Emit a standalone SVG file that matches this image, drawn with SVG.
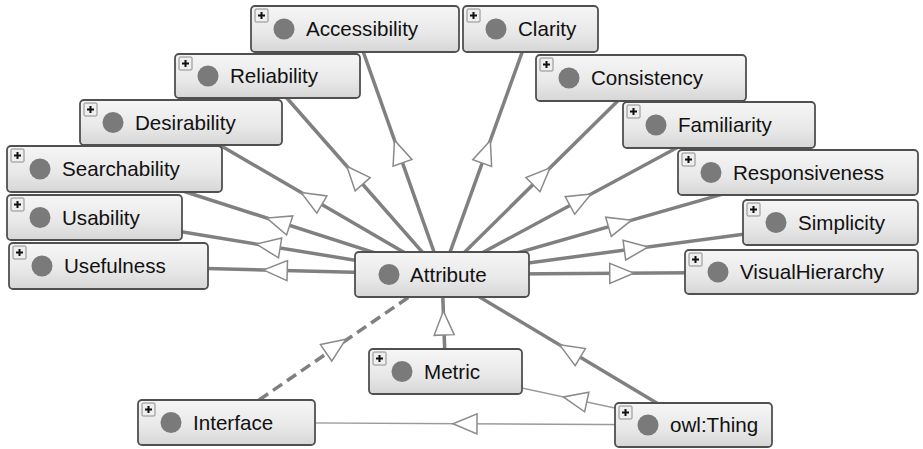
<svg xmlns="http://www.w3.org/2000/svg" xmlns:xlink="http://www.w3.org/1999/xlink" width="923" height="449" viewBox="0 0 923 449">
<style>
.box{fill:url(#bg);stroke:#505050;stroke-width:1.8}
.dot{fill:#7a7a7a}
.lbl{font-family:"Liberation Sans",Arial,sans-serif;font-size:20.6px;fill:#111}
.e{stroke:#808080;stroke-width:3.5;fill:none}
.thin{stroke:#9a9a9a;stroke-width:1.4;fill:none}
.dash{stroke:#808080;stroke-width:3.5;fill:none;stroke-dasharray:11 6}
.ah{fill:#fff;stroke:#8a8a8a;stroke-width:1.5;stroke-linejoin:miter}
</style>
<defs>
<linearGradient id="bg" x1="0" y1="0" x2="0" y2="1">
<stop offset="0" stop-color="#f6f6f6"/>
<stop offset="0.6" stop-color="#e8e8e8"/>
<stop offset="1" stop-color="#d6d6d6"/>
</linearGradient>
<g id="plus">
<rect x="0" y="0" width="13" height="13" rx="1" fill="#efefef" stroke="#8c8c8c" stroke-width="1"/>
<path d="M3,6.5 H10 M6.5,3 V10" stroke="#111" stroke-width="2"/>
</g>
<path id="ah" d="M12,0 L-12,-10 L-12,10 Z"/>
</defs>
<rect width="923" height="449" fill="#fff"/>
<g id="connectors">
<line class="e" x1="442" y1="274.5" x2="355" y2="28.5"/>
<line class="e" x1="442" y1="274.5" x2="530.5" y2="29"/>
<line class="e" x1="442" y1="274.5" x2="267.5" y2="76"/>
<line class="e" x1="442" y1="274.5" x2="641" y2="78"/>
<line class="e" x1="442" y1="274.5" x2="181" y2="122.5"/>
<line class="e" x1="442" y1="274.5" x2="719" y2="125"/>
<line class="e" x1="442" y1="274.5" x2="114.5" y2="169"/>
<line class="e" x1="442" y1="274.5" x2="798" y2="172.5"/>
<line class="e" x1="442" y1="274.5" x2="94.5" y2="217.5"/>
<line class="e" x1="442" y1="274.5" x2="830.5" y2="222.5"/>
<line class="e" x1="442" y1="274.5" x2="108.5" y2="266"/>
<line class="e" x1="442" y1="274.5" x2="801.5" y2="272"/>
<line class="e" x1="445.5" y1="371.5" x2="442" y2="274.5"/>
<line class="e" x1="693.5" y1="425" x2="442" y2="274.5"/>
<line class="dash" x1="259" y1="400" x2="409" y2="297"/>
<line class="thin" x1="693.5" y1="425" x2="226.5" y2="422.5"/>
<line class="thin" x1="693.5" y1="425" x2="445.5" y2="371.5"/>
<g class="ah">
<use xlink:href="#ah" transform="translate(398.5,151.5) rotate(-109.5)"/>
<use xlink:href="#ah" transform="translate(486.25,151.75) rotate(-70.2)"/>
<use xlink:href="#ah" transform="translate(354.75,175.25) rotate(-131.3)"/>
<use xlink:href="#ah" transform="translate(541.5,176.25) rotate(-44.6)"/>
<use xlink:href="#ah" transform="translate(311.5,198.5) rotate(-149.8)"/>
<use xlink:href="#ah" transform="translate(580.5,199.75) rotate(-28.4)"/>
<use xlink:href="#ah" transform="translate(278.25,221.75) rotate(-162.1)"/>
<use xlink:href="#ah" transform="translate(620,223.5) rotate(-16)"/>
<use xlink:href="#ah" transform="translate(268.25,246) rotate(-170.7)"/>
<use xlink:href="#ah" transform="translate(636.25,248.5) rotate(-7.6)"/>
<use xlink:href="#ah" transform="translate(275.25,270.25) rotate(-178.5)"/>
<use xlink:href="#ah" transform="translate(621.75,273.25) rotate(-0.4)"/>
<use xlink:href="#ah" transform="translate(443.75,323) rotate(-92)"/>
<use xlink:href="#ah" transform="translate(570,351) rotate(-149.1)"/>
<use xlink:href="#ah" transform="translate(336,346) rotate(-34.5)"/>
<use xlink:href="#ah" transform="translate(465,423.8) rotate(180.3)"/>
<use xlink:href="#ah" transform="translate(575,399.5) rotate(192.2)"/>
</g>
</g>
<g id="Accessibility">
<rect class="box" x="251" y="6" width="208" height="46" rx="4"/>
<use xlink:href="#plus" x="255" y="9"/>
<circle class="dot" cx="284" cy="29" r="10.5"/>
<text class="lbl" x="306" y="36">Accessibility</text>
</g>
<g id="Clarity">
<rect class="box" x="463" y="6" width="135" height="46" rx="4"/>
<use xlink:href="#plus" x="467" y="9"/>
<circle class="dot" cx="496" cy="29" r="10.5"/>
<text class="lbl" x="518" y="36">Clarity</text>
</g>
<g id="Reliability">
<rect class="box" x="175" y="54" width="185" height="44" rx="4"/>
<use xlink:href="#plus" x="179" y="57"/>
<circle class="dot" cx="208" cy="76" r="10.5"/>
<text class="lbl" x="230" y="83">Reliability</text>
</g>
<g id="Consistency">
<rect class="box" x="536" y="55" width="210" height="46" rx="4"/>
<use xlink:href="#plus" x="540" y="58"/>
<circle class="dot" cx="569" cy="78" r="10.5"/>
<text class="lbl" x="591" y="85">Consistency</text>
</g>
<g id="Desirability">
<rect class="box" x="80" y="100" width="202" height="45" rx="4"/>
<use xlink:href="#plus" x="84" y="103"/>
<circle class="dot" cx="113" cy="122.5" r="10.5"/>
<text class="lbl" x="135" y="129.5">Desirability</text>
</g>
<g id="Familiarity">
<rect class="box" x="623" y="102" width="192" height="46" rx="4"/>
<use xlink:href="#plus" x="627" y="105"/>
<circle class="dot" cx="656" cy="125" r="10.5"/>
<text class="lbl" x="678" y="132">Familiarity</text>
</g>
<g id="Searchability">
<rect class="box" x="7" y="146" width="215" height="46" rx="4"/>
<use xlink:href="#plus" x="11" y="149"/>
<circle class="dot" cx="40" cy="169" r="10.5"/>
<text class="lbl" x="62" y="176">Searchability</text>
</g>
<g id="Responsiveness">
<rect class="box" x="678" y="150" width="240" height="45" rx="4"/>
<use xlink:href="#plus" x="682" y="153"/>
<circle class="dot" cx="711" cy="172.5" r="10.5"/>
<text class="lbl" x="733" y="179.5">Responsiveness</text>
</g>
<g id="Usability">
<rect class="box" x="7" y="195" width="175" height="45" rx="4"/>
<use xlink:href="#plus" x="11" y="198"/>
<circle class="dot" cx="40" cy="217.5" r="10.5"/>
<text class="lbl" x="62" y="224.5">Usability</text>
</g>
<g id="Simplicity">
<rect class="box" x="743" y="200" width="175" height="45" rx="4"/>
<use xlink:href="#plus" x="747" y="203"/>
<circle class="dot" cx="776" cy="222.5" r="10.5"/>
<text class="lbl" x="798" y="229.5">Simplicity</text>
</g>
<g id="Usefulness">
<rect class="box" x="9" y="243" width="199" height="46" rx="4"/>
<use xlink:href="#plus" x="13" y="246"/>
<circle class="dot" cx="42" cy="266" r="10.5"/>
<text class="lbl" x="64" y="273">Usefulness</text>
</g>
<g id="VisualHierarchy">
<rect class="box" x="685" y="250" width="233" height="44" rx="4"/>
<use xlink:href="#plus" x="689" y="253"/>
<circle class="dot" cx="718" cy="272" r="10.5"/>
<text class="lbl" x="740" y="279">VisualHierarchy</text>
</g>
<g id="Attribute">
<rect class="box" x="355" y="252" width="174" height="45" rx="4"/>
<circle class="dot" cx="389" cy="274.5" r="10.5"/>
<text class="lbl" x="410" y="281.5">Attribute</text>
</g>
<g id="Metric">
<rect class="box" x="369" y="349" width="153" height="45" rx="4"/>
<use xlink:href="#plus" x="373" y="352"/>
<circle class="dot" cx="402" cy="371.5" r="10.5"/>
<text class="lbl" x="424" y="378.5">Metric</text>
</g>
<g id="Interface">
<rect class="box" x="138" y="400" width="177" height="45" rx="4"/>
<use xlink:href="#plus" x="142" y="403"/>
<circle class="dot" cx="171" cy="422.5" r="10.5"/>
<text class="lbl" x="193" y="429.5">Interface</text>
</g>
<g id="owlThing">
<rect class="box" x="615" y="403" width="157" height="44" rx="4"/>
<use xlink:href="#plus" x="619" y="406"/>
<circle class="dot" cx="648" cy="425" r="10.5"/>
<text class="lbl" x="670" y="432">owl:Thing</text>
</g>
</svg>
